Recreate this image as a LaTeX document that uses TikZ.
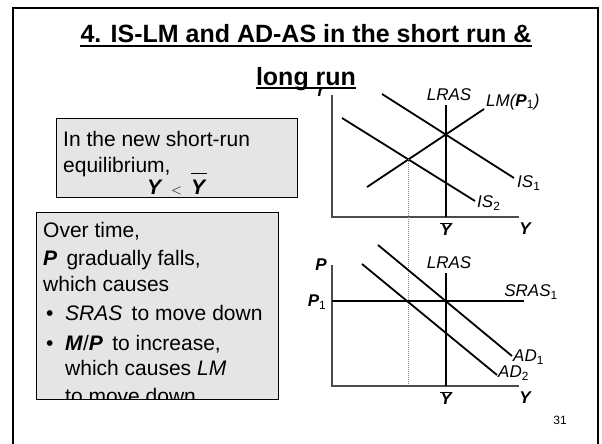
\documentclass[tikz,border=0pt]{standalone}
\usepackage{fontspec}
\setmainfont{Liberation Sans}
\newcommand{\bi}[1]{\textbf{\textit{#1}}}
\newcommand{\ybar}{$\overline{\mbox{\bfseries\itshape Y}}$}
\begin{document}
\begin{tikzpicture}[x=1pt,y=-1pt,
  axis/.style={draw=black!70, line width=1.3pt},
  curve/.style={line width=1.8pt},
  lab/.style={font=\fontsize{17}{20}\selectfont\itshape, inner sep=0},
  blab/.style={font=\fontsize{17}{20}\selectfont\bfseries\itshape, inner sep=0},
  txt/.style={font=\fontsize{21}{25}\selectfont, anchor=base west, inner sep=0},
  title/.style={font=\fontsize{25}{30}\selectfont\bfseries, anchor=base, inner sep=0},
  uline/.style={line width=2pt},
  box/.style={draw, fill=black!10, line width=0.8pt}]
\useasboundingbox (0,0) rectangle (602,444);
\draw[line width=2.5pt] (13,8) rectangle (598,450);
% title
\node[title] (t1) at (306,43) {4. IS-LM and AD-AS in the short run \&};
\node[title] (t2) at (306,85) {long run};
\draw[uline] ([yshift=-3pt]t1.base west) -- ([yshift=-3pt]t1.base east);
\draw[uline] ([yshift=-3pt]t2.base west) -- ([yshift=-3pt]t2.base east);
% box 1
\draw[box] (56,118) rectangle (297,197);
\node[txt] (b1a) at (63,146) {In the new short-run};
\node[txt] (b1b) at (63,172) {equilibrium,};
\node[txt] (b1y) at (147,194) {\bi{Y}};
\node[txt, font=\fontsize{15}{18}\selectfont] (b1lt) at (171,194) {$<$};
\node[txt] (b1yb) at (191,194) {\bi{Y}};
\draw[line width=1pt] ([yshift=21pt]b1yb.base west) -- ([yshift=21pt]b1yb.base east);
% box 2
\draw[box] (36,212) rectangle (278,399);
\begin{scope}
\clip (36,212) rectangle (278,399);
\node[txt] (b2a) at (43,237) {Over time,};
\node[txt] (b2b) at (43,265) {\bi{P}\, gradually falls,};
\node[txt] (b2c) at (43,291) {which causes};
\node[txt] (b2d) at (46,320) {\textbullet\ \ \textit{SRAS}\, to move down};
\node[txt] (b2e) at (46,350) {\textbullet\ \ \bi{M}/\bi{P}\, to increase,};
\node[txt] (b2f) at (65,375) {which causes \textit{LM}};
\node[txt] (b2g) at (65,403) {to move down};
\end{scope}
\draw[line width=0.8pt] (36,212) rectangle (278,399);
% upper graph
\coordinate (rtop) at (332,95);
\coordinate (o1) at (332,217);
\coordinate (xe1) at (519,217);
\coordinate (lr1t) at (446,105);
\coordinate (lr1b) at (446,217);
\coordinate (lmA) at (367,187);
\coordinate (lmB) at (484,109);
\coordinate (is1A) at (382,94);
\coordinate (is1B) at (514,178);
\coordinate (is2A) at (342,118);
\coordinate (is2B) at (475,201);
\coordinate (e2) at (408,159);
\draw[axis] (rtop) -- (o1) -- (xe1);
\draw[curve] (lr1t) -- (lr1b);
\draw[curve] (lmA) -- (lmB);
\draw[curve] (is1A) -- (is1B);
\draw[curve] (is2A) -- (is2B);
\begin{scope}
\clip (300,89.5) rectangle (340,110);
\node[blab] (rl) at (321,92) {r};
\end{scope}
\node[lab] (lras1) at (449,95) {LRAS};
\node[lab, anchor=west] (lml) at (486,102) {LM(\textbf{P}\textsubscript{\upshape\mdseries 1})};
\node[lab, anchor=west] (is1l) at (517,183) {IS\textsubscript{\upshape 1}};
\node[lab, anchor=west] (is2l) at (477,203) {IS\textsubscript{\upshape 2}};
\node[blab] (yb1) at (446,229) {\ybar};
\node[blab] (y1) at (525,229) {Y};
% lower graph
\coordinate (ptop) at (332,265);
\coordinate (o2) at (332,386);
\coordinate (xe2) at (519,386);
\coordinate (lr2t) at (446,273);
\coordinate (lr2b) at (446,386);
\coordinate (srA) at (332,301);
\coordinate (srB) at (524,301);
\coordinate (ad1A) at (378,245);
\coordinate (ad1B) at (512,356);
\coordinate (ad2A) at (362,264);
\coordinate (ad2B) at (497,375);
\coordinate (d2) at (408,386);
\draw[black!45, line width=1pt, densely dotted] (e2) -- (d2);
\draw[axis] (ptop) -- (o2) -- (xe2);
\draw[curve] (lr2t) -- (lr2b);
\draw[curve] (srA) -- (srB);
\draw[curve] (ad1A) -- (ad1B);
\draw[curve] (ad2A) -- (ad2B);
\node[blab] (pl) at (321,265) {P};
\node[blab] (p1l) at (317,302) {P\textsubscript{\upshape\mdseries 1}};
\node[lab] (lras2) at (449,263) {LRAS};
\node[lab] (sral) at (531,292) {SRAS\textsubscript{\upshape 1}};
\node[lab, anchor=west] (ad1l) at (513,357) {AD\textsubscript{\upshape 1}};
\node[lab, anchor=west] (ad2l) at (498,373) {AD\textsubscript{\upshape 2}};
\node[blab] (yb2) at (446,398) {\ybar};
\node[blab] (y2) at (525,398) {Y};
\node[font=\fontsize{12}{14}\selectfont, inner sep=0] (pg) at (560,420) {31};
\end{tikzpicture}
\end{document}
